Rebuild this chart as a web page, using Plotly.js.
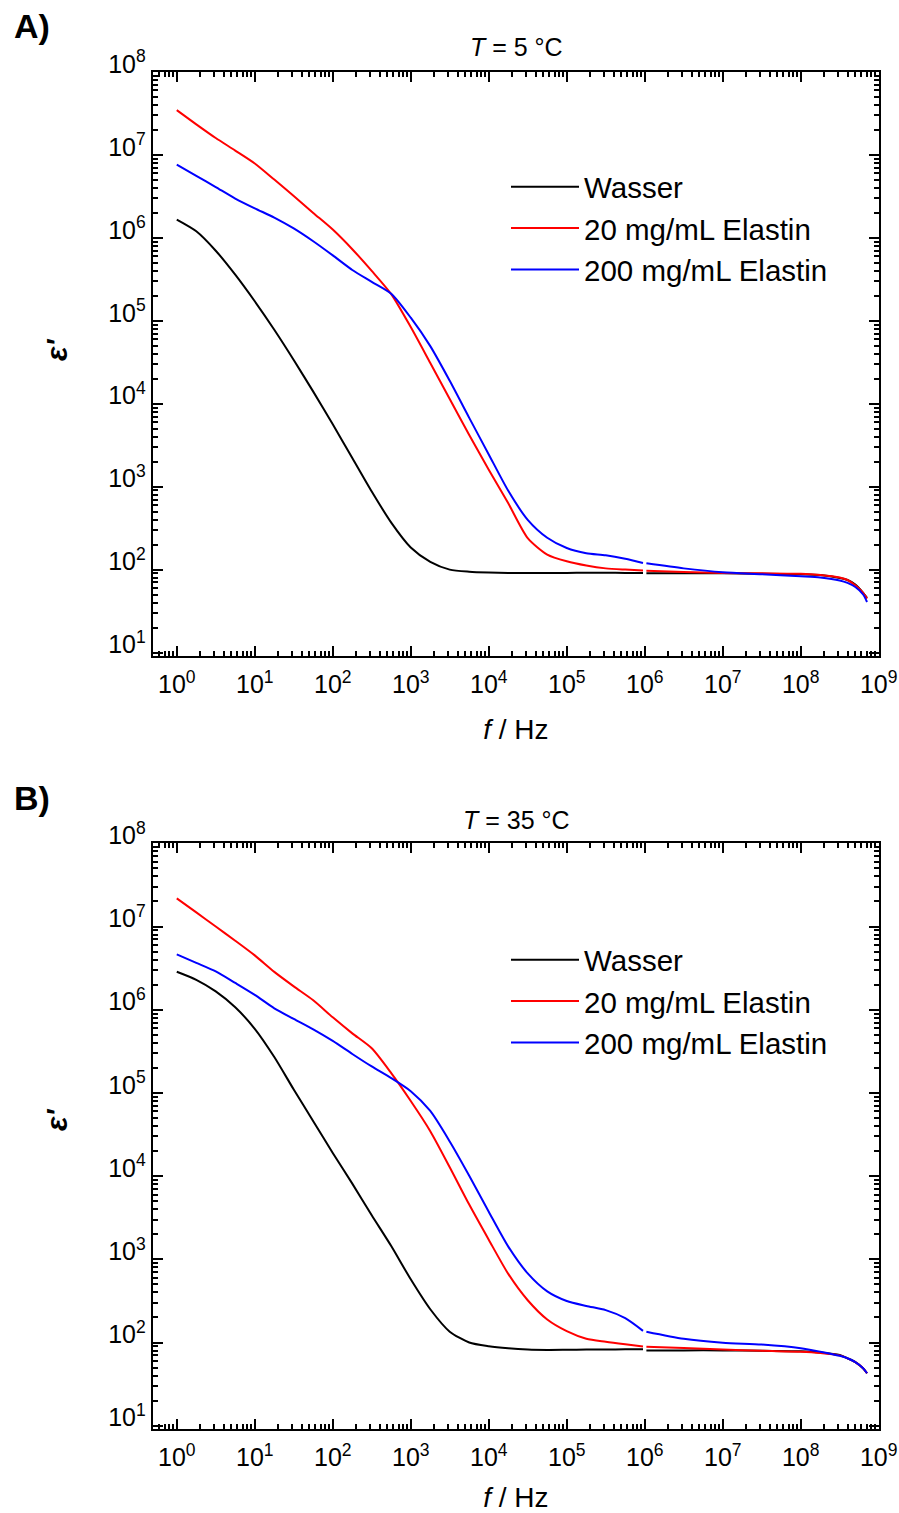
<!DOCTYPE html>
<html>
<head>
<meta charset="utf-8">
<script src="https://cdn.plot.ly/plotly-3.0.1.min.js"></script>
<style>
  html, body { margin: 0; padding: 0; background: #ffffff; }
  #chart { width: 899px; height: 1513px; }
</style>
</head>
<body>
<div id="chart"></div>
<script>
// Frequency in Hz (the value 1e6 carries a gap: the two instruments meet there)
const freq = [1, 1.78, 3.16, 5.62, 10, 17.8, 31.6, 56.2, 100, 178, 316, 562,
  1e3, 1.78e3, 3.16e3, 5.62e3, 1e4, 1.78e4, 3.16e4, 5.62e4, 1e5, 1.78e5, 3.16e5, 5.62e5, 9.5e5,
  1e6,
  1.05e6, 3.16e6, 1e7, 3.16e7, 1e8, 1.78e8, 3.16e8, 3.98e8, 5.01e8, 6.31e8, 7.08e8];

// Panel A, T = 5 °C
const epsA_wasser = [1.66e6, 1.2e6, 7.0e5, 3.6e5, 1.72e5, 7.8e4, 3.37e4, 1.4e4, 5650, 2220, 875, 369,
  185, 124, 100, 94.4, 92.3, 91.2, 91.2, 90.8, 91.2, 91.6, 91.6, 91.2, 90.8,
  null,
  90.2, 90.2, 90.2, 89.1, 88.1, 86.1, 79.4, 75, 66, 52.5, 45.7];
const epsA_20 = [3.47e7, 2.34e7, 1.6e7, 1.13e7, 7.9e6, 5.05e6, 3.2e6, 2.0e6, 1.26e6, 7.3e5, 4.0e5, 2.1e5,
  8.4e4, 3.1e4, 1.14e4, 4200, 1600, 630, 240, 152, 126, 112, 103.5, 100, 97.7,
  null,
  96.6, 93.3, 91.2, 90.2, 89.1, 86.1, 80.4, 75, 64.6, 52.5, 44.7];
const epsA_200 = [7.66e6, 5.6e6, 4.1e6, 2.98e6, 2.27e6, 1.76e6, 1.3e6, 9.1e5, 6.15e5, 4.1e5, 2.95e5, 2.12e5,
  1.09e5, 4.95e4, 1.89e4, 6760, 2450, 891, 398, 242, 182, 158, 149, 135, 120,
  null,
  119, 103.5, 92.9, 88.1, 83.2, 80.4, 74.1, 69.2, 61.7, 50.1, 40.7];

// Panel B, T = 35 °C
const epsB_wasser = [2.86e6, 2.29e6, 1.66e6, 1.07e6, 5.9e5, 2.7e5, 1.1e5, 4.57e4, 1.9e4, 8130, 3390, 1445,
  575, 251, 135, 100, 90.2, 85.1, 82.2, 81.3, 81.7, 82.2, 82.2, 82.8, 83.2,
  null,
  80.4, 80.4, 80.4, 79.4, 78.5, 75.9, 70.8, 64.6, 58.2, 49, 42.7];
const epsB_20 = [2.18e7, 1.48e7, 1.0e7, 6.76e6, 4.5e6, 2.85e6, 1.91e6, 1.3e6, 8.1e5, 5.2e5, 3.44e5, 1.73e5,
  8.0e4, 3.47e4, 1.28e4, 4550, 1720, 668, 322, 189, 137, 111, 102, 95, 89.5,
  null,
  89.1, 86.1, 82.2, 79.4, 77.6, 75, 70, 64.6, 58.2, 49, 42.7];
const epsB_200 = [4.63e6, 3.66e6, 2.89e6, 2.1e6, 1.51e6, 1.04e6, 7.76e5, 5.82e5, 4.22e5, 2.94e5, 2.08e5, 1.51e5,
  1.05e5, 6.07e4, 2.61e4, 1.01e4, 3730, 1420, 676, 411, 315, 275, 245, 196, 138,
  null,
  135, 111, 99.5, 94.4, 85.5, 77.6, 69.2, 64.6, 58.2, 49, 42.7];

const seriesNames = ['Wasser', '20 mg/mL Elastin', '200 mg/mL Elastin'];
const seriesColors = ['#000000', '#ff0000', '#0000ff'];
const panelTitles = ['<i>T</i> = 5 °C', '<i>T</i> = 35 °C'];
const panelLabels = ['A)', 'B)'];
const yTitle = "<b><i>ε'</i></b>";

const xTickVals = [1, 10, 100, 1e3, 1e4, 1e5, 1e6, 1e7, 1e8, 1e9];
const xTickText = ['10<sup>0</sup>', '10<sup>1</sup>', '10<sup>2</sup>', '10<sup>3</sup>', '10<sup>4</sup>',
  '10<sup>5</sup>', '10<sup>6</sup>', '10<sup>7</sup>', '10<sup>8</sup>', '10<sup>9</sup>'];
const yTickVals = [10, 100, 1e3, 1e4, 1e5, 1e6, 1e7, 1e8];
const yTickText = ['10<sup>1</sup>', '10<sup>2</sup>', '10<sup>3</sup>', '10<sup>4</sup>',
  '10<sup>5</sup>', '10<sup>6</sup>', '10<sup>7</sup>', '10<sup>8</sup>'];

// minor tick positions (2..9 x each decade)
function minorVals(lo, hi) {
  const v = [];
  for (let n = lo; n <= hi; n++) for (let k = 2; k <= 9; k++) v.push(k * Math.pow(10, n));
  return v;
}
const minorX = minorVals(-1, 9);
const minorY = minorVals(0, 8);

const FONT = 'Liberation Sans, Arial, Helvetica, sans-serif';

const panels = [
  {eps: [epsA_wasser, epsA_20, epsA_200], xa: 'x', ya: 'y', legend: 'legend'},
  {eps: [epsB_wasser, epsB_20, epsB_200], xa: 'x2', ya: 'y2', legend: 'legend2'}
];

const traces = [];
panels.forEach(p => {
  p.eps.forEach((ys, i) => {
    traces.push({
      type: 'scatter', mode: 'lines',
      x: freq, y: ys, name: seriesNames[i],
      xaxis: p.xa, yaxis: p.ya, legend: p.legend,
      connectgaps: false,
      line: {color: seriesColors[i], width: 2, shape: 'spline', smoothing: 0.7}
    });
  });
});

function xAxis(anchor) {
  return {
    type: 'log', domain: [0.1699, 0.9778], range: [-0.308, 9.004], anchor: anchor,
    showline: true, linewidth: 2, linecolor: '#000', mirror: 'ticks',
    ticks: 'inside', ticklen: 10, tickwidth: 2, tickcolor: '#000',
    tickmode: 'array', tickvals: xTickVals, ticktext: xTickText,
    minor: {ticks: 'inside', ticklen: 5, tickwidth: 2, tickcolor: '#000', tickmode: 'array', tickvals: minorX, showgrid: false},
    showgrid: false, zeroline: false,
    ticklabelstandoff: 5,
    tickfont: {family: FONT, size: 25, color: '#000'},
    title: {text: '<i>f</i> / Hz', font: {family: FONT, size: 28, color: '#000'}, standoff: 22}
  };
}
function yAxis(anchor, domain, range) {
  return {
    type: 'log', domain: domain, range: range, anchor: anchor,
    showline: true, linewidth: 2, linecolor: '#000', mirror: 'ticks',
    ticks: 'inside', ticklen: 10, tickwidth: 2, tickcolor: '#000',
    tickmode: 'array', tickvals: yTickVals, ticktext: yTickText,
    minor: {ticks: 'inside', ticklen: 5, tickwidth: 2, tickcolor: '#000', tickmode: 'array', tickvals: minorY, showgrid: false},
    showgrid: false, zeroline: false,
    ticklabelshift: -8,
    tickfont: {family: FONT, size: 25, color: '#000'}
  };
}

function legendCfg(ytop) {
  return {
    x: 506 / 899, y: ytop, xanchor: 'left', yanchor: 'top',
    bgcolor: 'rgba(0,0,0,0)', borderwidth: 0,
    font: {family: FONT, size: 29.5, color: '#000'},
    itemwidth: 68, traceorder: 'normal'
  };
}

const annotations = [];
const labelY = [1 - 26 / 1513, 1 - 798 / 1513];
const titleY = [1 - 47 / 1513, 1 - 820 / 1513];
const yTitleY = [1 - 350 / 1513, 1 - 1120 / 1513];
for (let k = 0; k < 2; k++) {
  annotations.push({xref: 'paper', yref: 'paper', x: 12 / 899, y: labelY[k], xanchor: 'left', yanchor: 'middle',
    text: '<b>' + panelLabels[k] + '</b>', showarrow: false, font: {family: FONT, size: 34, color: '#000'}});
  annotations.push({xref: 'paper', yref: 'paper', x: 516 / 899, y: titleY[k], xanchor: 'center', yanchor: 'middle',
    text: panelTitles[k], showarrow: false, font: {family: FONT, size: 25, color: '#000'}});
  annotations.push({xref: 'paper', yref: 'paper', x: 56 / 899, y: yTitleY[k], xanchor: 'center', yanchor: 'middle',
    text: yTitle, textangle: -90, showarrow: false, font: {family: FONT, size: 30, color: '#000'}});
}

const layout = {
  width: 899, height: 1513,
  margin: {l: 0, r: 0, t: 0, b: 0},
  paper_bgcolor: '#fff', plot_bgcolor: '#fff',
  font: {family: FONT, color: '#000'},
  showlegend: true,
  xaxis: xAxis('y'),
  yaxis: yAxis('x', [0.5664, 0.9524], [0.958, 8.0]),
  xaxis2: xAxis('y2'),
  yaxis2: yAxis('x2', [0.0555, 0.4426], [0.96, 8.0]),
  legend: legendCfg(1 - 161 / 1513),
  legend2: legendCfg(1 - 934 / 1513),
  annotations: annotations
};

Plotly.newPlot('chart', traces, layout, {displayModeBar: false, staticPlot: true});
</script>
</body>
</html>
